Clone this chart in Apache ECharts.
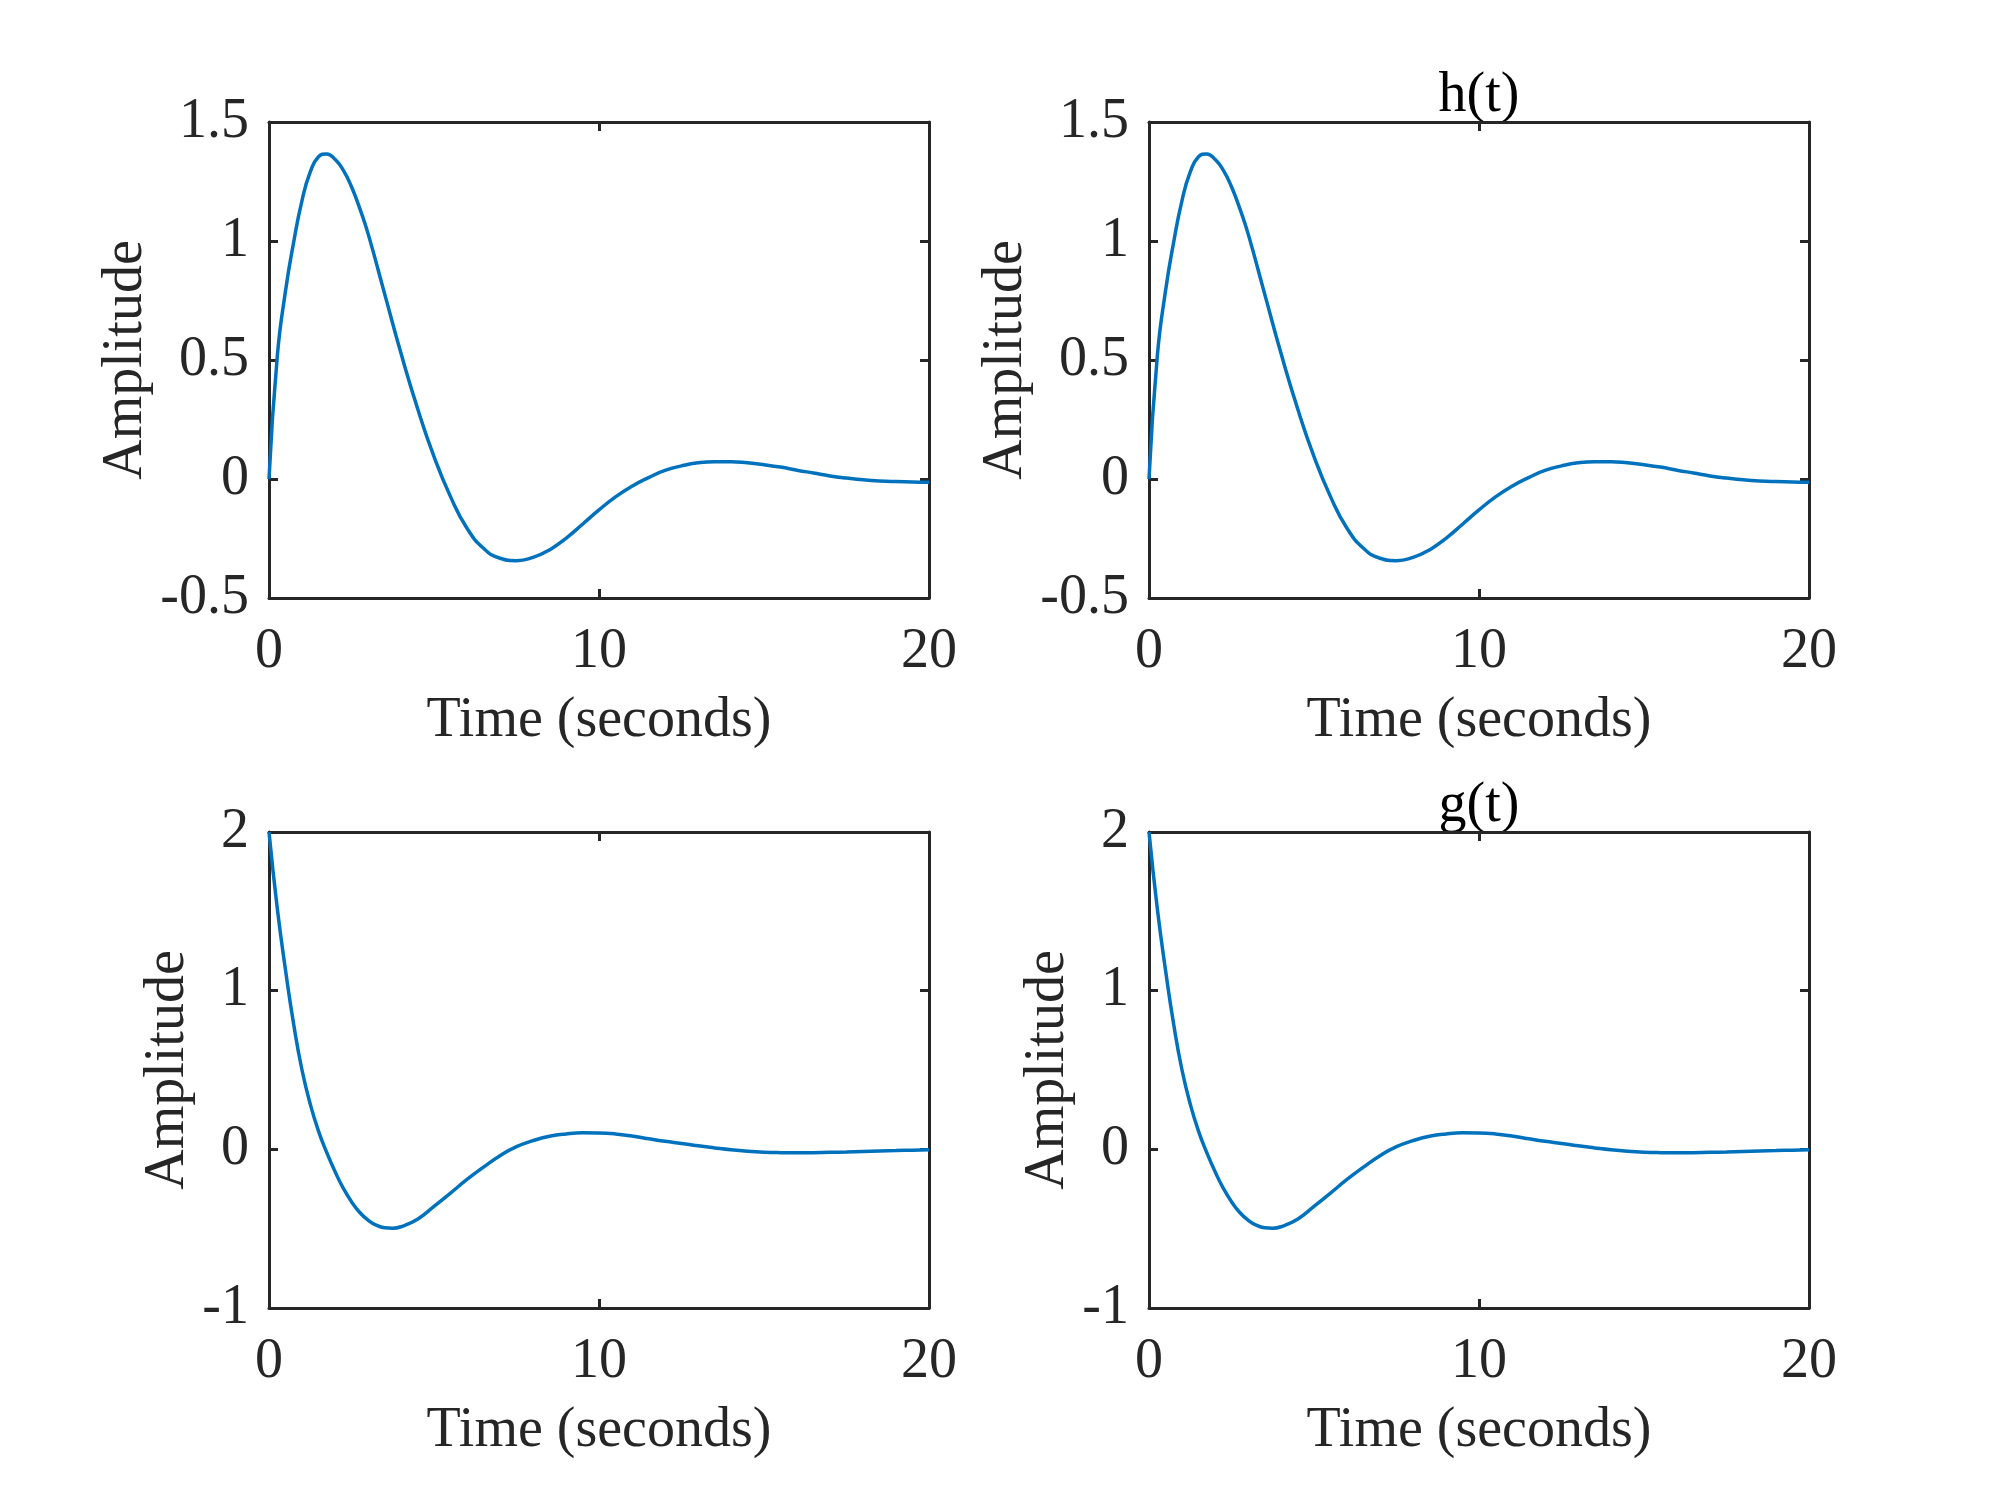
<!DOCTYPE html>
<html>
<head>
<meta charset="utf-8">
<script src="https://cdn.jsdelivr.net/npm/echarts@6/dist/echarts.min.js"></script>
<style>html,body{margin:0;padding:0;background:#fff}#c{width:2000px;height:1500px}</style>
</head>
<body>
<div id="c"></div>
<script>
// h(t): time (s) and amplitude
const hTime = [0, 0.25, 0.5, 0.75, 1, 1.25, 1.5, 1.75, 2, 2.25, 2.5, 2.75, 3, 3.5, 4, 4.5, 5, 5.5, 6, 6.5, 7, 7.5, 8, 8.5, 9, 9.5, 10, 10.5, 11, 11.5, 12, 12.5, 13, 13.5, 14, 14.5, 15, 15.5, 16, 16.5, 17, 17.5, 18, 18.5, 19, 19.5, 20];
const hValues = [0, 0.514, 0.79, 0.997, 1.17, 1.29, 1.354, 1.366, 1.343, 1.298, 1.228, 1.137, 1.032, 0.78, 0.528, 0.297, 0.094, -0.074, -0.207, -0.291, -0.333, -0.343, -0.329, -0.298, -0.249, -0.19, -0.13, -0.075, -0.03, 0.006, 0.036, 0.055, 0.068, 0.073, 0.073, 0.068, 0.06, 0.05, 0.037, 0.025, 0.013, 0.004, -0.003, -0.008, -0.011, -0.013, -0.014];
// g(t)
const gTime = [0, 0.25, 0.5, 0.75, 1, 1.25, 1.5, 1.75, 2, 2.25, 2.5, 2.75, 3, 3.25, 3.5, 3.75, 4, 4.5, 5, 5.5, 6, 6.5, 7, 7.5, 8, 8.5, 9, 9.5, 10, 10.5, 11, 11.5, 12, 12.5, 13, 13.5, 14, 14.5, 15, 15.5, 16, 16.5, 17, 17.5, 18, 18.5, 19, 19.5, 20];
const gValues = [2, 1.52, 1.13, 0.785, 0.5, 0.285, 0.115, -0.02, -0.14, -0.245, -0.33, -0.398, -0.446, -0.478, -0.494, -0.497, -0.488, -0.44, -0.36, -0.276, -0.19, -0.112, -0.04, 0.017, 0.055, 0.082, 0.097, 0.104, 0.103, 0.097, 0.084, 0.067, 0.051, 0.037, 0.022, 0.009, -0.003, -0.012, -0.018, -0.021, -0.022, -0.021, -0.019, -0.017, -0.014, -0.011, -0.008, -0.005, -0.003];

const xTicks = {min: 0, max: 20, interval: 10};
const yTicksTop = {min: -0.5, max: 1.5, interval: 0.5};
const yTicksBottom = {min: -1, max: 2, interval: 1};
const panelTitles = ['', 'h(t)', '', 'g(t)'];
const xLabel = 'Time (seconds)';
const yLabel = 'Amplitude';

const AX = '#262626';
const FONT = 'Liberation Serif';
const FS = 56;

const grids = [
  {left: 269, top: 122, width: 660, height: 476},
  {left: 1149, top: 122, width: 660, height: 476},
  {left: 269, top: 832, width: 660, height: 476},
  {left: 1149, top: 832, width: 660, height: 476}
];
const panelData = [
  [hTime, hValues, yTicksTop, 115],
  [hTime, hValues, yTicksTop, 115],
  [gTime, gValues, yTicksBottom, 73],
  [gTime, gValues, yTicksBottom, 73]
];

const xAxis = [], yAxis = [], series = [], graphic = [];
const lineCommon = {show: true, onZero: false, lineStyle: {color: AX, width: 3}};
const tickCommon = {show: true, inside: true, length: 9, lineStyle: {color: AX, width: 3}};
grids.forEach((g, i) => {
  const [tt, vv, yt, nameGap] = panelData[i];
  xAxis.push({
    type: 'value', gridIndex: i, position: 'bottom', ...xTicks,
    axisLine: lineCommon, axisTick: tickCommon, splitLine: {show: false},
    axisLabel: {color: AX, fontFamily: FONT, fontSize: FS, margin: 26},
    name: xLabel, nameLocation: 'middle', nameGap: 95,
    nameTextStyle: {color: AX, fontFamily: FONT, fontSize: FS}
  });
  xAxis.push({
    type: 'value', gridIndex: i, position: 'top', ...xTicks,
    axisLine: lineCommon, axisTick: tickCommon, splitLine: {show: false},
    axisLabel: {show: false}
  });
  yAxis.push({
    type: 'value', gridIndex: i, position: 'left', ...yt,
    axisLine: lineCommon, axisTick: tickCommon, splitLine: {show: false},
    axisLabel: {color: AX, fontFamily: FONT, fontSize: FS, margin: 20},
    name: yLabel, nameLocation: 'middle', nameGap: nameGap, nameRotate: 90,
    nameTextStyle: {color: AX, fontFamily: FONT, fontSize: FS}
  });
  yAxis.push({
    type: 'value', gridIndex: i, position: 'right', ...yt,
    axisLine: lineCommon, axisTick: tickCommon, splitLine: {show: false},
    axisLabel: {show: false}
  });
  series.push({
    type: 'line', xAxisIndex: 2 * i, yAxisIndex: 2 * i,
    data: tt.map((t, k) => [t, vv[k]]),
    smooth: 0.5, showSymbol: false, symbol: 'none',
    lineStyle: {color: '#0072BD', width: 3.5}, z: 1
  });
  if (panelTitles[i]) {
    graphic.push({
      type: 'text', x: g.left + g.width / 2, y: g.top - 54,
      style: {text: panelTitles[i], fill: '#000', font: FS + 'px "' + FONT + '"', align: 'center', verticalAlign: 'top'}
    });
  }
});

const chart = echarts.init(document.getElementById('c'), null, {renderer: 'canvas'});
chart.setOption({
  backgroundColor: '#fff',
  animation: false,
  grid: grids,
  xAxis, yAxis, series, graphic
});
</script>
</body>
</html>
